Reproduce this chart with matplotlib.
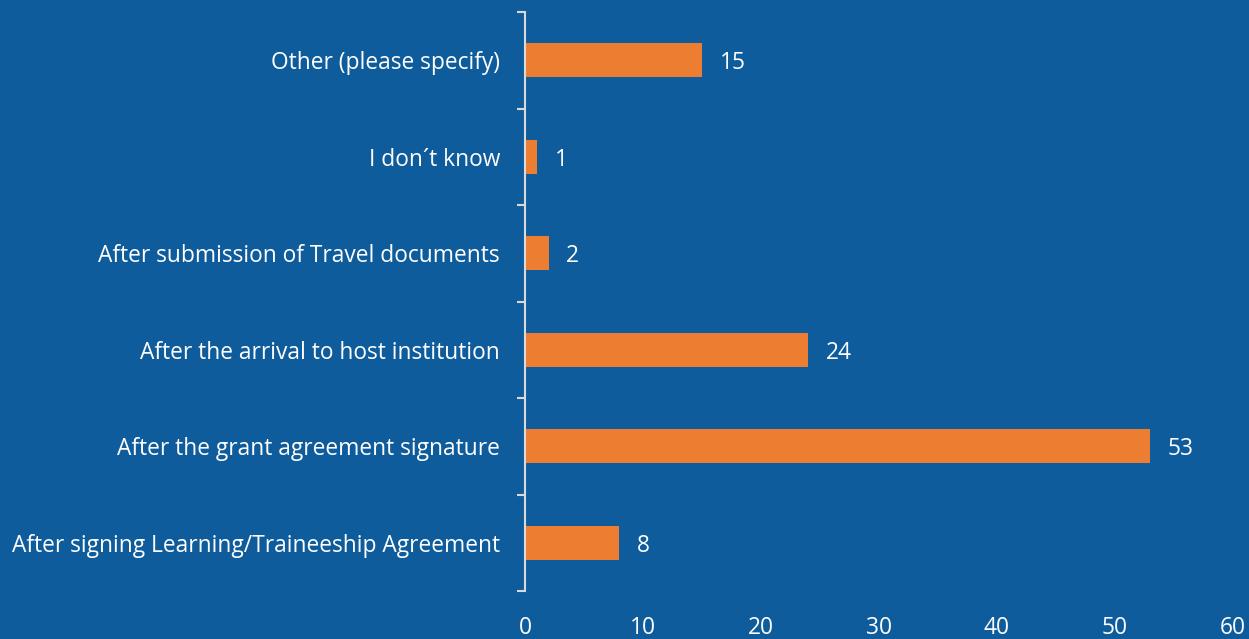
import numpy as np
import matplotlib.pyplot as plt

categories = ['After signing Learning/Traineeship Agreement',
              'After the grant agreement signature',
              'After the arrival to host institution',
              'After submission of Travel documents',
              'I don\u00b4t know',
              'Other (please specify)']
counts = [8, 53, 24, 2, 1, 15]
xticks = [0, 10, 20, 30, 40, 50, 60]

bg = '#0e5c9c'
bar_color = '#ed7d31'
axis_color = '#d9d9d9'

plt.rcParams['font.family'] = ['Open Sans', 'DejaVu Sans']

fig = plt.figure(figsize=(12.49, 6.39), dpi=100, facecolor=bg)
ax = fig.add_axes([0.4203, 0.0751, 0.5668, 0.9061])
ax.set_facecolor(bg)

y = np.arange(len(categories))
ax.barh(y, counts, height=0.35, color=bar_color, zorder=2)

for yi, c in zip(y, counts):
    ax.text(c + 1.5, yi, str(c), va='center_baseline', ha='left', color='white', fontsize=16.4)

ax.set_xlim(0, 60)
ax.set_ylim(-0.5, len(categories) - 0.5)
ax.set_xticks(xticks)
ax.set_xticklabels([str(t) for t in xticks], color='white', fontsize=16.4)
ax.tick_params(axis='x', length=0, pad=18)

ax.set_yticks(y)
ax.set_yticklabels(categories, color='white', fontsize=16.4, va='center_baseline')
ax.tick_params(axis='y', which='major', length=0, pad=18)
ax.set_yticks(np.arange(-0.5, len(categories)), minor=True)
ax.tick_params(axis='y', which='minor', length=6, width=1.5, color=axis_color)

for s in ['top', 'right', 'bottom']:
    ax.spines[s].set_visible(False)
ax.spines['left'].set_color(axis_color)
ax.spines['left'].set_linewidth(1.5)

fig.savefig('out.png', dpi=100, facecolor=bg)
